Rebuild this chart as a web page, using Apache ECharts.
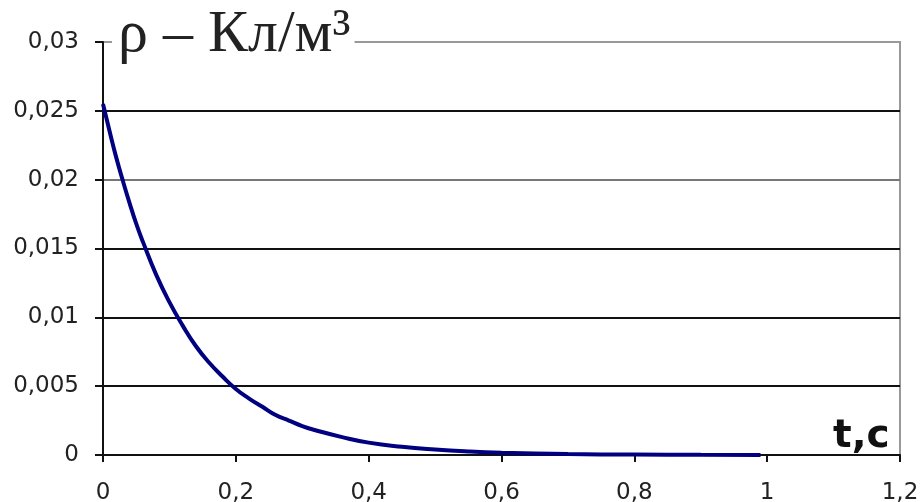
<!DOCTYPE html>
<html>
<head>
<meta charset="utf-8">
<script src="https://cdn.jsdelivr.net/npm/echarts@6/dist/echarts.min.js"></script>
<style>
  html, body { margin: 0; padding: 0; background: #fff; }
  #main { width: 920px; height: 502px; }
</style>
</head>
<body>
<div id="main"></div>
<script>
// values: time (s) and charge density
var times = [0, 0.01, 0.02, 0.03, 0.04, 0.05, 0.06, 0.08, 0.10, 0.12, 0.14, 0.16, 0.18, 0.20,
             0.22, 0.24, 0.26, 0.28, 0.30, 0.32, 0.36, 0.40, 0.45, 0.50, 0.55, 0.60, 0.70, 0.80, 0.90, 0.99];
var rho = [0.0255, 0.0235, 0.0216, 0.0199, 0.0183, 0.0168, 0.0155, 0.0131, 0.0111, 0.0094, 0.0079,
           0.0067, 0.0057, 0.0048, 0.0041, 0.0035, 0.0029, 0.0025, 0.0021, 0.0018, 0.0013, 0.0009,
           0.0006, 0.0004, 0.00026, 0.00017, 0.00007, 0.00003, 0.00001, 0.0];
var yTicks = ['0', '0,005', '0,01', '0,015', '0,02', '0,025', '0,03'];
var xTicks = ['0', '0,2', '0,4', '0,6', '0,8', '1', '1,2'];

var points = [];
for (var i = 0; i < times.length; i++) {
    points.push([times[i], rho[i]]);
}

var myChart = echarts.init(document.getElementById('main'));
var option = {
    animation: false,
    backgroundColor: '#fff',
    title: [{
        text: 'ρ – Кл/м³',
        left: 112,
        top: 5,
        backgroundColor: '#fff',
        padding: [0, 4, 0, 6],
        textStyle: {
            fontFamily: 'Liberation Serif',
            fontWeight: 'normal',
            fontSize: 60,
            color: '#222'
        }
    }, {
        text: 't,c',
        left: 833,
        top: 417,
        padding: 0,
        textStyle: {
            fontFamily: 'DejaVu Sans',
            fontWeight: 'bold',
            fontSize: 39,
            color: '#111'
        }
    }],
    grid: {
        left: 103,
        right: 20,
        top: 42,
        bottom: 47,
        outerBoundsMode: 'none',
        show: true,
        borderColor: '#999',
        borderWidth: 2,
        backgroundColor: 'transparent'
    },
    xAxis: {
        type: 'value',
        min: 0,
        max: 1.2,
        interval: 0.2,
        axisLine: { lineStyle: { color: '#111', width: 2 } },
        axisTick: { show: true, length: 7, lineStyle: { color: '#111', width: 2 } },
        splitLine: { show: false },
        axisLabel: {
            margin: 27,
            fontFamily: 'DejaVu Sans',
            fontSize: 23,
            color: '#222',
            formatter: function (v) { return xTicks[Math.round(v / 0.2)]; }
        }
    },
    yAxis: {
        type: 'value',
        min: 0,
        max: 0.03,
        interval: 0.005,
        axisLine: { show: true, lineStyle: { color: '#111', width: 2 } },
        axisTick: { show: true, length: 8, lineStyle: { color: '#111', width: 2 } },
        splitLine: {
            show: true,
            lineStyle: { color: ['#111', '#111', '#111', '#111', '#777', '#111', '#999'], width: 2 }
        },
        axisLabel: {
            margin: 24,
            fontFamily: 'DejaVu Sans',
            fontSize: 23,
            color: '#222',
            formatter: function (v) { return yTicks[Math.round(v / 0.005)]; }
        }
    },
    series: [{
        type: 'line',
        data: points,
        smooth: true,
        showSymbol: false,
        lineStyle: { color: '#000080', width: 4 }
    }]
};
myChart.setOption(option);
</script>
</body>
</html>
